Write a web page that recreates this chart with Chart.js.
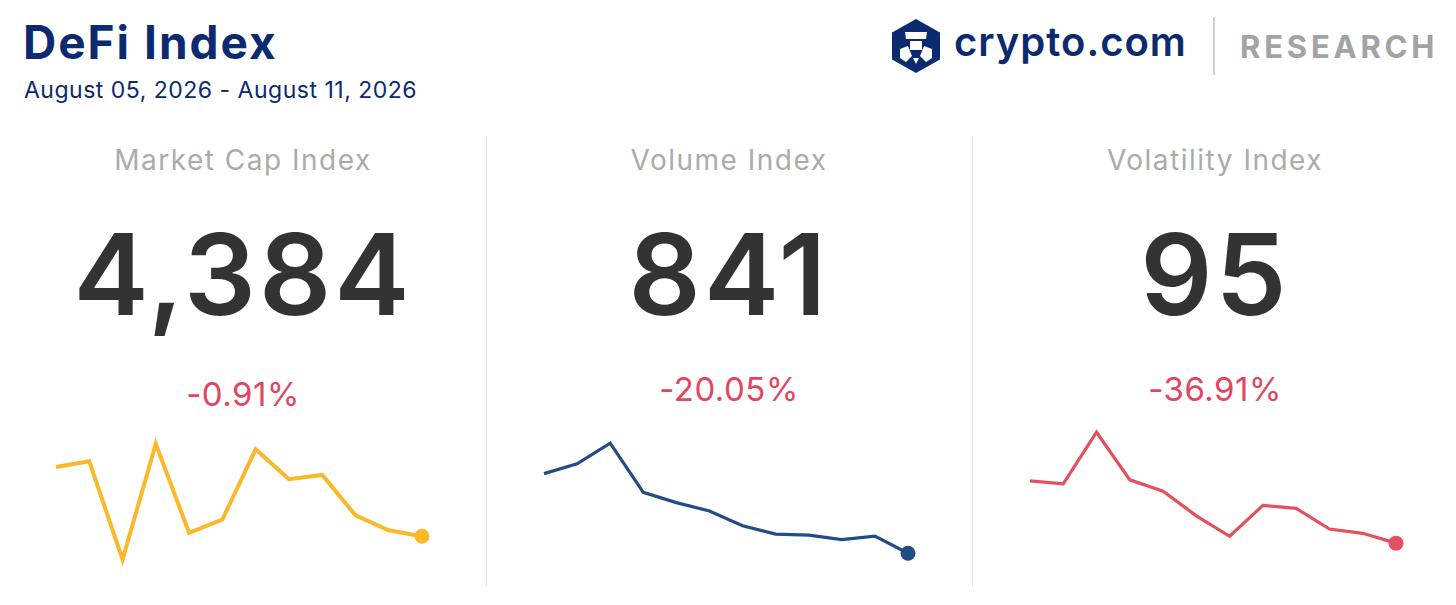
<!DOCTYPE html>
<html>
<head>
<meta charset="utf-8">
<script src="https://cdn.jsdelivr.net/npm/chart.js@4.4.1/dist/chart.umd.min.js"></script>
<style>
  body { margin: 0; background: #fff; width: 1456px; height: 605px; overflow: hidden; position: relative; font-family: "Inter", "Noto Sans", sans-serif; }
  .abs { position: absolute; white-space: nowrap; line-height: 1; }
  .title { left: 23px; top: 19px; font-size: 46px; font-weight: 700; color: #0b2a6f; letter-spacing: 2px; }
  .date { left: 24px; top: 79px; font-size: 23px; font-weight: 400; color: #0b2a6f; letter-spacing: 0.5px; }
  .panelTitle { font-size: 28px; color: #ababab; text-align: center; width: 486px; top: 146px; letter-spacing: 1.5px; }
  .big { font-size: 113px; font-weight: 600; color: #333; text-align: center; width: 486px; top: 218px; letter-spacing: 3px; }
  .pct { font-size: 33px; color: #e1465f; text-align: center; width: 486px; top: 373px; letter-spacing: 0.5px; }
  .vline { position: absolute; width: 1px; background: #e6e6e6; top: 136px; height: 451px; }
  .spark { position: absolute; top: 415px; }
</style>
</head>
<body>
<div class="abs title">DeFi Index</div>
<div class="abs date">August 05, 2026 - August 11, 2026</div>

<svg style="position:absolute;left:891px;top:19px" width="50" height="54" viewBox="0 0 50 54">
  <polygon points="25,0 49,13.5 49,40.5 25,54 1,40.5 1,13.5" fill="#0b2a6f"/>
  <polygon points="14,13 36,13 35,20 15,20" fill="#fff"/>
  <rect x="19" y="22" width="12" height="9" fill="#fff"/>
  <path d="M9,30 L17,27 L21,37 L15,43 L9,39 Z" fill="#fff"/>
  <path d="M41,30 L33,27 L29,37 L35,43 L41,39 Z" fill="#fff"/>
  <path d="M22,39 L28,39 L25,45 Z" fill="#fff"/>
</svg>
<div class="abs" style="left:954px;top:22px;font-size:40px;font-weight:600;color:#0b2a6f;letter-spacing:1px;">crypto.com</div>
<div style="position:absolute;left:1213px;top:17px;width:2px;height:58px;background:#cfcfcf"></div>
<div class="abs" style="left:1240px;top:31px;font-size:31px;font-weight:700;color:#a3a3a3;letter-spacing:3.8px;">RESEARCH</div>

<div class="vline" style="left:486px"></div>
<div class="vline" style="left:972px"></div>

<div class="abs panelTitle" style="left:0px">Market Cap Index</div>
<div class="abs panelTitle" style="left:486px">Volume Index</div>
<div class="abs panelTitle" style="left:972px">Volatility Index</div>

<div class="abs big" style="left:0px">4,384</div>
<div class="abs big" style="left:486px">841</div>
<div class="abs big" style="left:972px">95</div>

<div class="abs pct" style="left:0px;top:378px">-0.91%</div>
<div class="abs pct" style="left:486px">-20.05%</div>
<div class="abs pct" style="left:972px">-36.91%</div>

<canvas id="capChart" class="spark" style="left:36px" width="406" height="165"></canvas>
<canvas id="volChart" class="spark" style="left:524px" width="404" height="165"></canvas>
<canvas id="vixChart" class="spark" style="left:1010px" width="406" height="165"></canvas>

<script>
// 12 sampling points per sparkline
let days = ['1', '2', '3', '4', '5', '6', '7', '8', '9', '10', '11', '12'];
let marketCap = [4595, 4613, 4313, 4666, 4394, 4435, 4649, 4558, 4571, 4448, 4402, 4384];
let volume = [1003, 1023, 1065, 965, 944, 927, 897, 880, 878, 869, 876, 841];
let volatility = [126.7, 125.2, 151.4, 127.2, 121.4, 108.9, 98.5, 114.2, 112.7, 102.2, 100, 95];

let drawSpark = ((id, values, color, width, yMin, yMax) => {
    let ctx = document.getElementById(id).getContext('2d');
    let last = values.length - 1;
    return new Chart(ctx, {
        type: 'line',
        data: {
            labels: days,
            datasets: [{
                data: values,
                borderColor: color,
                backgroundColor: color,
                borderWidth: width,
                tension: 0,
                pointRadius: c => c.dataIndex === last ? 7.5 : 0,
                pointBorderWidth: 0,
                clip: false
            }]
        },
        options: {
            responsive: false,
            animation: false,
            layout: { padding: { left: 20, right: 20, top: 5, bottom: 10 } },
            plugins: { legend: { display: false }, tooltip: { enabled: false } },
            scales: {
                x: { display: false, offset: false },
                y: { display: false, min: yMin, max: yMax }
            }
        }
    });
});

drawSpark('capChart', marketCap, '#fbb829', 4, 4281, 4731);
drawSpark('volChart', volume, '#234b86', 3.2, 807, 1107);
drawSpark('vixChart', volatility, '#e5505f', 3.2, 81.35, 156.35);
</script>
</body>
</html>
